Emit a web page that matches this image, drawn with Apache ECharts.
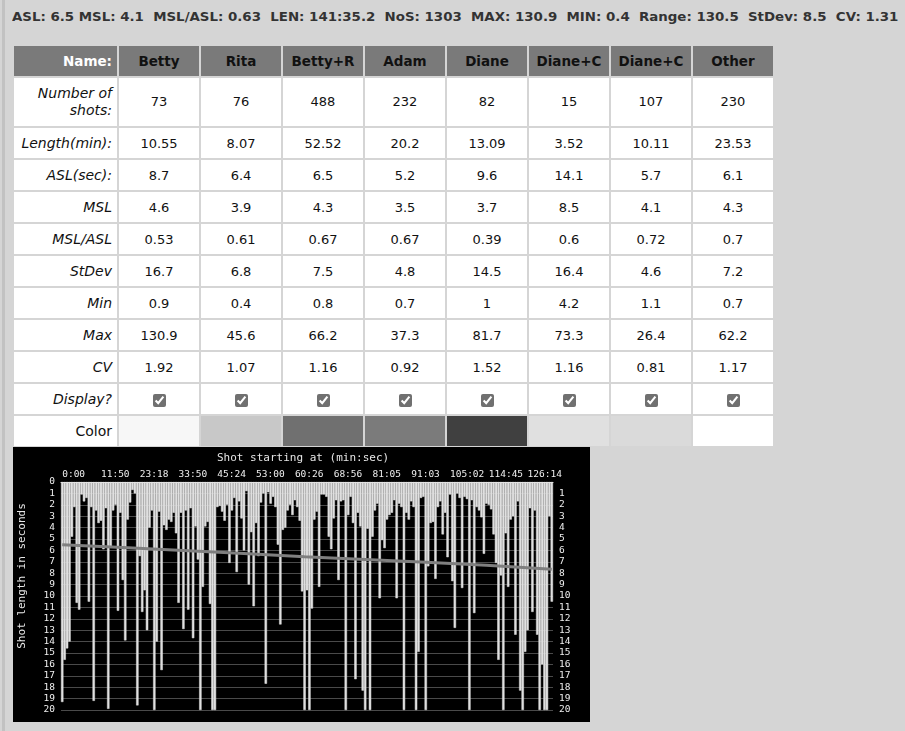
<!DOCTYPE html>
<html>
<head>
<meta charset="utf-8">
<script src="https://cdn.jsdelivr.net/npm/echarts@6/dist/echarts.min.js"></script>
<style>
    html, body { margin: 0; padding: 0; }
    body {
        width: 905px; height: 731px; overflow: hidden; position: relative;
        background: #d5d5d5;
        font-family: "DejaVu Sans", Verdana, sans-serif;
    }
    .edge { position: absolute; left: 2px; top: 0; width: 3px; height: 731px; background: #c2c2c2; }
    #stats {
        position: absolute; left: 12px; top: 9px;
        font-size: 13px; font-weight: bold; color: #333;
        white-space: pre; transform-origin: 0 0;
    }
    table.stat {
        position: absolute; left: 12px; top: 44px;
        border-collapse: separate; border-spacing: 2px;
        font-size: 13px; color: #111;
    }
    table.stat td, table.stat th {
        padding: 0; height: 30px; width: 80px;
        text-align: center; background: #fff;
    }
    table.stat th { background: #7a7a7a; font-weight: bold; font-size: 13.5px; }
    table.stat th.first { color: #fff; text-align: right; padding-right: 5px; width: 98px; }
    table.stat td.lab { text-align: right; font-style: italic; padding-right: 5px; width: 98px; font-size: 14px; }
    table.stat td.plain { font-style: normal; }
    table.stat tr.two td { height: 48px; line-height: 17.5px; }
    table.stat input { margin: 0; width: 13px; height: 13px; accent-color: #707070; vertical-align: middle; }
    #main3 { position: absolute; left: 13px; top: 447px; width: 577px; height: 275px; z-index: 2; }
</style>
</head>
<body>
<div class="edge"></div>
<div id="stats">ASL: 6.5 MSL: 4.1  MSL/ASL: 0.63  LEN: 141:35.2  NoS: 1303  MAX: 130.9  MIN: 0.4  Range: 130.5  StDev: 8.5  CV: 1.31</div>
<table class="stat" id="tbl"></table>
<div id="main3"></div>

<script>
    // table data
    var names = ['Betty', 'Rita', 'Betty+R', 'Adam', 'Diane', 'Diane+C', 'Diane+C', 'Other'];
    var numShots = [73, 76, 488, 232, 82, 15, 107, 230];
    var lengthMin = ['10.55', '8.07', '52.52', '20.2', '13.09', '3.52', '10.11', '23.53'];
    var aslSec = ['8.7', '6.4', '6.5', '5.2', '9.6', '14.1', '5.7', '6.1'];
    var msl = ['4.6', '3.9', '4.3', '3.5', '3.7', '8.5', '4.1', '4.3'];
    var mslAsl = ['0.53', '0.61', '0.67', '0.67', '0.39', '0.6', '0.72', '0.7'];
    var stDev = ['16.7', '6.8', '7.5', '4.8', '14.5', '16.4', '4.6', '7.2'];
    var minLen = ['0.9', '0.4', '0.8', '0.7', '1', '4.2', '1.1', '0.7'];
    var maxLen = ['130.9', '45.6', '66.2', '37.3', '81.7', '73.3', '26.4', '62.2'];
    var cv = ['1.92', '1.07', '1.16', '0.92', '1.52', '1.16', '0.81', '1.17'];
    var colors = ['#f7f7f7', '#c8c8c8', '#707070', '#7b7b7b', '#404040', '#e0e0e0', '#dadada', '#ffffff'];

    // chart data: shot lengths (sec) read left to right, top time labels
    var shotLen = [
        19.3, 15.6, 14.6, 14.0, 4.8, 2.2, 10.6, 11.2, 1.1, 1.7,
        1.4, 10.5, 2.2, 19.2, 2.5, 3.6, 3.4, 5.9, 2.3, 19.9,
        5.7, 2.5, 2.0, 11.3, 2.7, 8.6, 13.9, 3.3, 1.8, 0.7,
        1.0, 19.6, 6.5, 11.4, 9.5, 13.0, 4.0, 2.5, 20, 14.0,
        2.6, 16.5, 3.8, 4.2, 3.3, 3.5, 2.7, 4.5, 10.6, 2.7,
        12.9, 2.5, 11.2, 2.3, 13.7, 3.9, 6.8, 20, 9.2, 3.9,
        3.5, 10.7, 20, 20, 2.2, 2.1, 2.6, 3.4, 2.0, 7.1,
        2.5, 1.4, 7.9, 1.7, 3.2, 6.0, 0.8, 9.0, 4.4, 10.9,
        3.6, 6.5, 1.8, 1.0, 17.7, 0.9, 1.9, 1.3, 2.2, 5.5,
        12.5, 4.2, 4.0, 2.5, 2.0, 2.9, 1.6, 2.2, 3.4, 9.6,
        20,
        9.5, 20, 11.1, 3.3, 2.6, 9.2, 1.1, 1.1, 1.3, 4.8,
        5.9, 3.2, 1.6, 8.6, 1.7, 1.6, 20, 2.9, 1.3, 3.6,
        17.3, 2.7, 3.9, 18.3, 20, 4.1, 20, 4.8, 2.5, 1.9,
        10.2, 5.1, 5.8, 3.3, 2.9, 2.7, 1.6, 10.2, 1.9, 2.2,
        20, 2.7, 3.3, 1.7, 2.2, 20, 14.9, 1.4, 1.3, 20,
        7.4, 3.6,
        3.5, 8.5, 2.2, 1.7, 4.6, 2.7, 6.6, 1.1, 8.7, 12.8,
        1.0, 1.4, 9.3, 1.3, 1.5, 20, 1.6, 11.5, 2.2, 2.5,
        3.1, 6.3, 1.9, 2.0, 2.4, 4.6, 7.1, 15.6, 8.2, 20,
        4.5, 9.2, 3.3, 3.0, 13.4, 1.7, 18.3, 20, 14.9, 13.0,
        2.3, 11.4, 2.5, 13.4, 20, 16.0, 20, 20, 3.0, 10.5
    ];
    var timeLabels = ['0:00', '11:50', '23:18', '33:50', '45:24', '53:00', '60:26',
        '68:56', '81:05', '91:03', '105:02', '114:45', '126:14'];
    var labelStep = 16;
    var trendIdx = [0, 25, 50, 75, 100, 125, 150, 175, 202];
    var trendVal = [5.5, 5.75, 6.0, 6.27, 6.55, 6.8, 7.05, 7.3, 7.65];

    // build table
    function row(label, vals, cls) {
        var h = '<tr' + (cls ? ' class="' + cls + '"' : '') + '><td class="lab">' + label + '</td>';
        vals.forEach(function (v) { h += '<td>' + v + '</td>'; });
        return h + '</tr>';
    }
    var html = '<tr><th class="first">Name:</th>';
    names.forEach(function (n) { html += '<th>' + n + '</th>'; });
    html += '</tr>';
    html += row('Number of<br>shots:', numShots, 'two');
    html += row('Length(min):', lengthMin);
    html += row('ASL(sec):', aslSec);
    html += row('MSL', msl);
    html += row('MSL/ASL', mslAsl);
    html += row('StDev', stDev);
    html += row('Min', minLen);
    html += row('Max', maxLen);
    html += row('CV', cv);
    html += row('Display?', names.map(function () { return '<input type="checkbox" checked>'; }));
    html += '<tr><td class="lab plain">Color</td>';
    colors.forEach(function (c) { html += '<td style="background:' + c + '"></td>'; });
    html += '</tr>';
    document.getElementById('tbl').innerHTML = html;

    var st = document.getElementById('stats');
    st.style.transform = 'scaleX(' + (886 / st.offsetWidth) + ')';

    // chart
    var mono = '"DejaVu Sans Mono", monospace';
    var cats = shotLen.map(function (v, i) {
        return i % labelStep === 0 ? timeLabels[i / labelStep] : '';
    });
    var onLabel = function (i) { return i % labelStep === 0; };

    var myChart = echarts.init(document.getElementById('main3'));
    var option = {
        backgroundColor: '#000',
        animation: false,
        title: {
            text: 'Shot starting at (min:sec)',
            left: 204, top: 6, padding: 0,
            textStyle: { color: '#e6e6e6', fontFamily: mono, fontSize: 11, fontWeight: 'normal' }
        },
        graphic: [{
            type: 'text',
            x: 9, y: 129,
            rotation: Math.PI / 2,
            style: {
                text: 'Shot length in seconds',
                fill: '#e6e6e6', font: '11px ' + mono,
                align: 'center', verticalAlign: 'middle'
            }
        }],
        grid: { left: 48, right: 37, top: 35, bottom: 12 },
        xAxis: {
            type: 'category',
            position: 'top',
            data: cats,
            boundaryGap: true,
            axisLine: { lineStyle: { color: '#e6e6e6', width: 1 } },
            axisTick: { alignWithLabel: true, interval: onLabel, length: 5, lineStyle: { color: '#e6e6e6' } },
            axisLabel: {
                interval: onLabel, align: 'left', margin: 2,
                color: '#eeeeee', fontFamily: mono, fontSize: 9.5
            },
            splitLine: { show: false }
        },
        yAxis: [{
            type: 'value',
            inverse: true,
            min: 0, max: 20, interval: 1,
            axisLine: { show: false },
            axisTick: { show: false },
            axisLabel: { color: '#eeeeee', fontFamily: mono, fontSize: 9.5, margin: 6 },
            splitLine: { lineStyle: { color: '#4a4a4a', width: 1 } }
        }, {
            type: 'value',
            inverse: true,
            position: 'right',
            min: 0, max: 20, interval: 1,
            axisLine: { show: false },
            axisTick: { show: false },
            axisLabel: {
                color: '#eeeeee', fontFamily: mono, fontSize: 9.5, margin: 6,
                formatter: function (v) { return v === 0 ? '' : v; }
            },
            splitLine: { show: false }
        }],
        series: [{
            type: 'bar',
            data: shotLen,
            barCategoryGap: '0%',
            itemStyle: { color: '#e0e0e0', borderColor: '#e0e0e0', borderWidth: 0.5 }
        }, {
            type: 'line',
            data: trendIdx.map(function (x, k) { return [x, trendVal[k]]; }),
            symbol: 'none',
            lineStyle: { color: '#7f7f7f', width: 3 },
            z: 5
        }]
    };
    option && myChart.setOption(option);
</script>
</body>
</html>
